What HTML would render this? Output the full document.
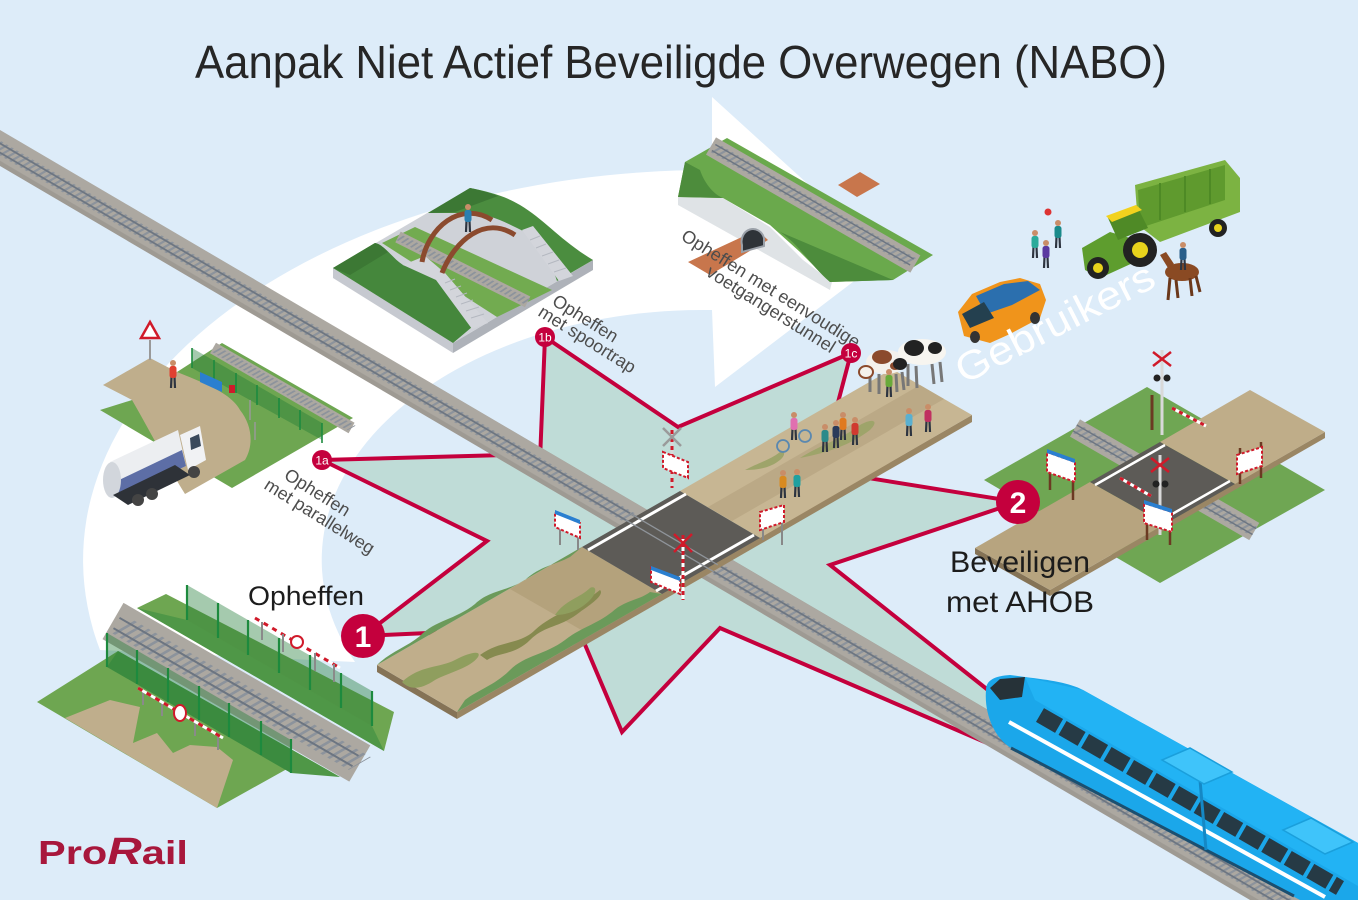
<!DOCTYPE html>
<html><head><meta charset="utf-8"><style>
html,body{margin:0;padding:0;background:#ddecf9;width:1358px;height:900px;overflow:hidden;}
svg{display:block;overflow:hidden}
text{font-family:"Liberation Sans",sans-serif}
</style></head><body>
<svg width="1358" height="900" viewBox="0 0 1358 900" xmlns="http://www.w3.org/2000/svg">
<defs>
<clipPath id="frame"><rect width="1358" height="900"/></clipPath>
<pattern id="trk" patternUnits="userSpaceOnUse" x="0" y="-15.5" width="6" height="31" patternTransform="translate(0,148) rotate(30.42) skewX(-30)">
 <rect width="6" height="31" fill="#aca8a1"/>
 <rect y="26.5" width="6" height="4.5" fill="#9e9a93"/>
 <rect x="0" y="9" width="2.5" height="13" fill="#8c939c"/>
 <rect y="10.6" width="6" height="1.8" fill="#6c7581"/>
 <rect y="18.6" width="6" height="1.8" fill="#6c7581"/>
</pattern>
<g id="pp"><path d="M-2,0 L-1.5,-11 M2,0 L1.5,-11" stroke="#2d3440" stroke-width="2.2"/><rect x="-3.5" y="-22" width="7" height="12" rx="2.5" fill="currentColor"/><circle cx="0" cy="-25" r="3" fill="#c98d68"/></g>
</defs>
<g clip-path="url(#frame)">
<rect width="1358" height="900" fill="#ddecf9"/>

<!-- white arrow -->
<path d="M712,170 A627,390 0 0 0 100,650 L355,662 A382,250 0 0 1 712,310 L715,387 L887,256 L712,97 Z" fill="#ffffff"/>

<!-- star -->
<polygon points="545,337 678,427 851,353 836,410 868,478 1018,502 830,565 988,690 1008,752 720,628 622,732 583,640 510,655 450,632 363,636 487,541 322,460 505,455 540,460" fill="#bfdcd7" stroke="#c4003d" stroke-width="4" stroke-linejoin="miter"/>

<!-- main track -->
<polygon points="0,130 1312,900 1250,900 0,166" fill="url(#trk)"/>

<!-- main road -->
<polygon points="377,665 457,712 457,719 377,672" fill="#857356"/>
<polygon points="457,712 972,415 972,422 457,719" fill="#9a8664"/>
<polygon points="377,665 582,547 662,594 457,712" fill="#c0ae8b"/>
<polygon points="510,589 582,547 662,594 590,635" fill="#b4a27c"/>
<path d="M377,665 L582,547 L570,557 C555,565 540,566 525,580 C505,592 490,590 475,604 C455,620 435,620 420,636 C405,648 390,652 377,665 Z" fill="#6b9a5a"/>
<path d="M457,712 L662,594 L650,592 C640,600 625,600 612,612 C595,625 580,628 565,640 C545,655 525,655 510,670 C495,685 478,690 465,700 Z" fill="#6b9a5a"/>
<path d="M480,655 C500,640 520,645 535,630 C555,612 575,610 600,590 C605,595 590,605 580,612 C560,628 545,625 530,640 C515,655 500,652 487,660 Z" fill="#868a4f"/>
<path d="M402,682 C420,665 440,668 455,660 C470,652 482,650 478,657 C470,668 450,672 435,680 C420,690 410,690 402,682 Z" fill="#8f9e5e"/>
<path d="M555,615 C565,600 580,598 590,588 C596,585 598,592 590,600 C580,610 568,615 555,615 Z" fill="#8f9e5e"/>
<polygon points="680,491 892,369 972,415 760,538" fill="#c7b693"/>
<polygon points="708,507 920,385 944,399 732,521" fill="#bba986"/>
<path d="M800,458 C820,445 840,440 860,425 C872,418 880,420 870,430 C850,445 830,452 800,458 Z" fill="#9ea46a"/>
<path d="M745,470 C760,462 770,460 780,452 C785,450 786,455 780,460 C770,468 758,470 745,470 Z" fill="#9ea46a"/>
<polygon points="582,547 680,491 760,538 662,594" fill="#5d5b57"/>
<line x1="588" y1="550" x2="686" y2="494" stroke="#fff" stroke-width="3"/>
<line x1="656" y1="591" x2="754" y2="535" stroke="#fff" stroke-width="3"/>
<g transform="translate(0,148) rotate(30.42)">
 <line x1="728" y1="-4" x2="830" y2="-4" stroke="#8f949a" stroke-width="1.3"/>
 <line x1="728" y1="4" x2="830" y2="4" stroke="#8f949a" stroke-width="1.3"/>
</g>
<!-- crossing furniture -->
<line x1="672" y1="430" x2="672" y2="488" stroke="#d8d8d8" stroke-width="3"/>
<line x1="672" y1="430" x2="672" y2="488" stroke="#d01a2a" stroke-width="3" stroke-dasharray="4 4"/>
<path d="M663,428 L681,446 M681,428 L663,446" stroke="#9a9a9a" stroke-width="2.5"/>
<polygon points="663,452 688,462 688,478 663,468" fill="#fff" stroke="#d01a2a" stroke-width="2" stroke-dasharray="3 2"/>
<line x1="683" y1="535" x2="683" y2="600" stroke="#fff" stroke-width="3"/>
<line x1="683" y1="535" x2="683" y2="600" stroke="#d01a2a" stroke-width="3" stroke-dasharray="4 4"/>
<path d="M674,534 L692,552 M692,534 L674,552" stroke="#d01a2a" stroke-width="2.5"/>
<polygon points="651,568 680,580 680,594 651,582" fill="#fff" stroke="#d01a2a" stroke-width="2" stroke-dasharray="3 2"/>
<polygon points="651,566 680,577 680,581 651,570" fill="#2a7fd0"/>
<line x1="560" y1="525" x2="560" y2="545" stroke="#888" stroke-width="2"/>
<line x1="578" y1="532" x2="578" y2="550" stroke="#888" stroke-width="2"/>
<polygon points="555,512 580,523 580,538 555,527" fill="#fff" stroke="#d01a2a" stroke-width="2" stroke-dasharray="3 2"/>
<polygon points="555,510 580,520 580,524 555,514" fill="#2a7fd0"/>
<line x1="763" y1="515" x2="763" y2="540" stroke="#888" stroke-width="2"/>
<line x1="782" y1="508" x2="782" y2="545" stroke="#888" stroke-width="2"/>
<polygon points="760,512 784,505 784,522 760,530" fill="#fff" stroke="#d01a2a" stroke-width="2" stroke-dasharray="3 2"/>

<!-- ===== lower-left tile ===== -->
<polygon points="137,608 166,594 394,712 384,751" fill="#6ea651"/>
<polygon points="187,620 372,726 384,751 137,608" fill="#4f9747"/>
<polygon points="187,585 372,691 372,726 187,620" fill="#1f7a35" fill-opacity="0.4"/>
<g stroke="#1d8a3e" stroke-width="2.2">
<line x1="187" y1="585" x2="187" y2="620"/><line x1="218" y1="603" x2="218" y2="638"/><line x1="248" y1="620" x2="248" y2="655"/><line x1="279" y1="638" x2="279" y2="673"/><line x1="310" y1="655" x2="310" y2="690"/><line x1="341" y1="673" x2="341" y2="708"/><line x1="372" y1="691" x2="372" y2="726"/>
</g>
<line x1="255" y1="618" x2="340" y2="668" stroke="#fff" stroke-width="3"/>
<line x1="255" y1="618" x2="340" y2="668" stroke="#d01a2a" stroke-width="3" stroke-dasharray="5 5"/>
<circle cx="297" cy="642" r="6" fill="#fff" stroke="#d01a2a" stroke-width="2"/>
<g stroke="#8a8a8a" stroke-width="2"><line x1="262" y1="622" x2="262" y2="640"/><line x1="283" y1="634" x2="283" y2="652"/><line x1="315" y1="653" x2="315" y2="671"/><line x1="334" y1="664" x2="334" y2="682"/></g>
<g transform="translate(113,621) rotate(30)">
 <rect x="0" y="-21" width="285" height="42" fill="#aca8a1"/>
 <g transform="skewX(-30)"><line x1="12" y1="0" x2="285" y2="0" stroke="#8c939c" stroke-width="22" stroke-dasharray="3 5"/></g>
 <line x1="4" y1="-6" x2="280" y2="-6" stroke="#6c7581" stroke-width="2"/>
 <line x1="4" y1="6" x2="280" y2="6" stroke="#6c7581" stroke-width="2"/>
</g>
<polygon points="37,702 118,651 340,777 303,760 217,808" fill="#6ea651"/>
<polygon points="118,651 340,777 291,773 107,667" fill="#4f9747"/>
<polygon points="65,718 110,700 140,707 133,743 157,733 173,753 190,745 217,747 233,760 217,808" fill="#bfae8c"/>
<polygon points="107,633 291,740 291,773 107,667" fill="#1f7a35" fill-opacity="0.4"/>
<g stroke="#1d8a3e" stroke-width="2.2">
<line x1="107" y1="633" x2="107" y2="667"/><line x1="137" y1="650" x2="137" y2="684"/><line x1="168" y1="668" x2="168" y2="702"/><line x1="199" y1="686" x2="199" y2="720"/><line x1="229" y1="703" x2="229" y2="737"/><line x1="261" y1="721" x2="261" y2="755"/><line x1="291" y1="739" x2="291" y2="773"/>
</g>
<g stroke="#8a8a8a" stroke-width="2"><line x1="143" y1="690" x2="143" y2="705"/><line x1="162" y1="701" x2="162" y2="716"/><line x1="195" y1="721" x2="195" y2="736"/><line x1="218" y1="735" x2="218" y2="750"/></g>
<line x1="138" y1="688" x2="223" y2="738" stroke="#fff" stroke-width="3"/>
<line x1="138" y1="688" x2="223" y2="738" stroke="#d01a2a" stroke-width="3" stroke-dasharray="5 5"/>
<ellipse cx="180" cy="713" rx="6" ry="8" fill="#fff" stroke="#d01a2a" stroke-width="2"/>

<!-- ===== 1a tile ===== -->
<polygon points="100,410 132,400 177,372 222,343 353,418 232,488" fill="#6ea651"/>
<path d="M103,385 L150,358 L177,372 C210,385 232,395 240,410 C252,425 254,445 245,460 L185,494 C170,470 155,440 132,400 Z" fill="#bfae8c"/>
<g transform="translate(213,348) rotate(30)">
 <rect x="0" y="-6" width="160" height="12" fill="#aca8a1"/>
 <g transform="skewX(-30)"><line x1="4" y1="0" x2="160" y2="0" stroke="#8c939c" stroke-width="8" stroke-dasharray="2 3"/></g>
</g>
<polygon points="192,348 322,423 322,440 192,368" fill="#1f7a35" fill-opacity="0.4"/>
<g stroke="#1d8a3e" stroke-width="1.6">
<line x1="192" y1="348" x2="192" y2="368"/><line x1="214" y1="360" x2="214" y2="380"/><line x1="236" y1="373" x2="236" y2="393"/><line x1="257" y1="385" x2="257" y2="405"/><line x1="279" y1="398" x2="279" y2="418"/><line x1="300" y1="410" x2="300" y2="430"/><line x1="322" y1="423" x2="322" y2="443"/>
</g>
<polygon points="200,372 222,382 222,392 200,382" fill="#2a7fd0"/>
<line x1="150" y1="340" x2="150" y2="360" stroke="#999" stroke-width="2"/>
<polygon points="150,322 159,338 141,338" fill="#fff" stroke="#d01a2a" stroke-width="2.5"/>
<rect x="229" y="385" width="6" height="8" fill="#d01a2a"/>
<line x1="250" y1="400" x2="250" y2="420" stroke="#999" stroke-width="1.5"/>
<line x1="255" y1="422" x2="255" y2="440" stroke="#999" stroke-width="1.5"/>
<use href="#pp" x="173" y="388" style="color:#e04030"/>
<!-- truck -->
<polygon points="110,462 178,430 186,466 120,497" fill="#eceef1"/>
<polygon points="115,482 182,450 186,466 120,497" fill="#5d6ea6"/>
<ellipse cx="112" cy="480" rx="9" ry="18" fill="#d2d6dc"/>
<polygon points="180,435 200,426 206,460 188,470" fill="#f1f2f4"/>
<polygon points="190,438 199,434 201,446 191,450" fill="#3b4a5c"/>
<polygon points="113,495 175,465 190,475 128,505" fill="#2e3238"/>
<circle cx="138" cy="500" r="6" fill="#444"/><circle cx="152" cy="494" r="6" fill="#444"/><circle cx="194" cy="472" r="6" fill="#444"/>

<!-- ===== 1b tile ===== -->
<polygon points="333,268 453,343 453,353 333,278" fill="#c6c9d0"/>
<polygon points="453,343 593,260 593,270 453,353" fill="#aeb2b9"/>
<polygon points="333,268 470,188 593,260 453,343" fill="#cfd2d8"/>
<polygon points="382,243 415,227 552,290 497,317" fill="#72ab50"/>
<g transform="translate(398,237) rotate(26.6)">
 <rect x="0" y="-6" width="145" height="12" fill="#aca8a1"/>
 <g transform="skewX(-30)"><line x1="2" y1="0" x2="145" y2="0" stroke="#8c939c" stroke-width="7" stroke-dasharray="2 3"/></g>
</g>
<path d="M333,268 L375,243 C385,245 392,258 403,265 L435,277 L472,327 L453,343 Z" fill="#45873c"/>
<path d="M333,268 L375,243 C380,244 384,248 388,252 L350,275 Z" fill="#3c7834"/>
<polygon points="403,265 425,256 445,273 488,323 472,329 436,280" fill="#d3d5db"/>
<g stroke="#b4b8c0" stroke-width="1"><line x1="445" y1="283" x2="455" y2="279"/><line x1="450" y1="290" x2="461" y2="286"/><line x1="456" y1="297" x2="467" y2="293"/><line x1="461" y1="304" x2="473" y2="300"/><line x1="466" y1="311" x2="479" y2="307"/><line x1="471" y1="318" x2="484" y2="314"/></g>
<path d="M428,213 L470,188 C490,192 505,196 520,205 C545,220 560,240 593,260 L557,281 C552,265 540,245 525,232 C505,222 490,214 470,213 Z" fill="#4b8d3f"/>
<path d="M428,213 L470,188 C480,190 490,193 498,196 L455,212 Z" fill="#3c7834"/>
<polygon points="522,230 533,226 573,276 559,281" fill="#d3d5db"/>
<g stroke="#b4b8c0" stroke-width="1"><line x1="530" y1="240" x2="540" y2="236"/><line x1="536" y1="248" x2="546" y2="244"/><line x1="542" y1="256" x2="553" y2="252"/><line x1="548" y1="264" x2="559" y2="260"/><line x1="554" y1="272" x2="566" y2="268"/></g>
<path d="M422,262 C428,228 460,200 492,220" fill="none" stroke="#8b4a2e" stroke-width="5"/>
<path d="M442,273 C455,240 485,215 515,235" fill="none" stroke="#8b4a2e" stroke-width="5"/>
<use href="#pp" x="468" y="232" style="color:#2a7fb0"/>

<!-- ===== 1c tile ===== -->
<polygon points="678,197 723,198 770,227 803,260 832,282 830,290 678,205" fill="#dfe3e6"/>
<polygon points="685,162 727,138 933,255 893,280 830,282 800,252 770,225 723,198 678,197" fill="#6aa94c"/>
<path d="M678,197 L685,162 L700,170 C705,185 715,195 723,198 Z" fill="#4d8c3c"/>
<path d="M830,282 C810,265 800,245 780,232 L893,280 Z" fill="#4d8c3c"/>
<g transform="translate(711,146) rotate(30)">
 <rect x="0" y="-10" width="236" height="20" fill="#aca8a1"/>
 <g transform="skewX(-30)"><line x1="6" y1="0" x2="232" y2="0" stroke="#8c939c" stroke-width="11" stroke-dasharray="2.5 3.5"/></g>
 <line x1="3" y1="-3.5" x2="232" y2="-3.5" stroke="#6c7581" stroke-width="1.4"/>
 <line x1="3" y1="3.5" x2="232" y2="3.5" stroke="#6c7581" stroke-width="1.4"/>
</g>
<polygon points="838,185 860,172 880,184 857,197" fill="#c8764c"/>
<polygon points="688,262 757,230 768,240 710,275" fill="#c8764c"/>
<path d="M742,245 A11,12 0 0 1 764,238 L764,246 L742,252 Z" fill="#2e3338" stroke="#9aa0a8" stroke-width="2"/>

<!-- ===== right tile (AHOB) ===== -->
<polygon points="984,480 1147,387 1325,490 1160,583" fill="#6fa653"/>
<g transform="translate(1075,428) rotate(30)">
 <rect x="0" y="-10" width="207" height="20" fill="#aca8a1"/>
 <g transform="skewX(-30)"><line x1="4" y1="0" x2="207" y2="0" stroke="#8c939c" stroke-width="11" stroke-dasharray="2.5 3.5"/></g>
 <line x1="0" y1="-3.5" x2="207" y2="-3.5" stroke="#6c7581" stroke-width="1.4"/>
 <line x1="0" y1="3.5" x2="207" y2="3.5" stroke="#6c7581" stroke-width="1.4"/>
</g>
<polygon points="975,548 1050,590 1050,596 975,554" fill="#857356"/>
<polygon points="1050,590 1325,432 1325,438 1050,596" fill="#9a8664"/>
<polygon points="975,548 1090,482 1165,524 1050,590" fill="#b7a47f"/>
<polygon points="1160,442 1250,390 1325,432 1235,484" fill="#bfad89"/>
<polygon points="1090,482 1160,442 1235,484 1165,524" fill="#5d5b57"/>
<line x1="1095" y1="485" x2="1165" y2="445" stroke="#fff" stroke-width="2.5"/>
<line x1="1160" y1="521" x2="1230" y2="481" stroke="#fff" stroke-width="2.5"/>
<line x1="1162" y1="350" x2="1162" y2="435" stroke="#d9d9d9" stroke-width="3"/>
<path d="M1153,352 L1171,366 M1171,352 L1153,366" stroke="#d01a2a" stroke-width="2.5"/>
<circle cx="1157" cy="378" r="3.5" fill="#222"/><circle cx="1167" cy="378" r="3.5" fill="#222"/>
<line x1="1152" y1="395" x2="1152" y2="430" stroke="#6b3a22" stroke-width="3"/>
<line x1="1172" y1="408" x2="1206" y2="426" stroke="#fff" stroke-width="3"/>
<line x1="1172" y1="408" x2="1206" y2="426" stroke="#d01a2a" stroke-width="3" stroke-dasharray="4 4"/>
<line x1="1160" y1="455" x2="1160" y2="535" stroke="#d9d9d9" stroke-width="3"/>
<path d="M1151,458 L1169,472 M1169,458 L1151,472" stroke="#d01a2a" stroke-width="2.5"/>
<circle cx="1156" cy="484" r="3.5" fill="#222"/><circle cx="1165" cy="484" r="3.5" fill="#222"/>
<line x1="1120" y1="478" x2="1151" y2="496" stroke="#fff" stroke-width="3"/>
<line x1="1120" y1="478" x2="1151" y2="496" stroke="#d01a2a" stroke-width="3" stroke-dasharray="4 4"/>
<line x1="1050" y1="455" x2="1050" y2="490" stroke="#6b3a22" stroke-width="2.5"/><line x1="1073" y1="465" x2="1073" y2="500" stroke="#6b3a22" stroke-width="2.5"/>
<polygon points="1047,452 1075,462 1075,482 1047,472" fill="#fff" stroke="#d01a2a" stroke-width="2" stroke-dasharray="3 2"/>
<polygon points="1047,449 1075,459 1075,463 1047,453" fill="#2a7fd0"/>
<line x1="1240" y1="448" x2="1240" y2="484" stroke="#6b3a22" stroke-width="2.5"/><line x1="1261" y1="442" x2="1261" y2="478" stroke="#6b3a22" stroke-width="2.5"/>
<polygon points="1237,455 1262,447 1262,466 1237,474" fill="#fff" stroke="#d01a2a" stroke-width="2" stroke-dasharray="3 2"/>
<line x1="1147" y1="505" x2="1147" y2="540" stroke="#6b3a22" stroke-width="2.5"/><line x1="1170" y1="512" x2="1170" y2="545" stroke="#6b3a22" stroke-width="2.5"/>
<polygon points="1144,503 1172,512 1172,532 1144,523" fill="#fff" stroke="#d01a2a" stroke-width="2" stroke-dasharray="3 2"/>
<polygon points="1144,500 1172,509 1172,513 1144,504" fill="#2a7fd0"/>

<!-- ===== train ===== -->
<path d="M986,690 C986,680 995,676 1010,675 L1025,677 C1050,680 1070,683 1083,690 L1358,843 L1358,900 L1300,900 L1011,748 C995,738 984,715 986,690 Z" fill="#1ba7ea"/>
<polygon points="1025,677 1083,690 1358,843 1358,886 1035,700" fill="#22b3f4"/>
<polygon points="990,688 1000,679 1025,677 1022,697 1000,700" fill="#263238"/>
<line x1="1040" y1="715" x2="1340" y2="888" stroke="#263a45" stroke-width="16" stroke-dasharray="22 4"/>
<line x1="1009" y1="722" x2="1325" y2="897" stroke="#fff" stroke-width="4"/>
<line x1="1011" y1="748" x2="1294" y2="896" stroke="#1b4f70" stroke-width="3"/>
<line x1="1200" y1="780" x2="1206" y2="850" stroke="#1588c5" stroke-width="3"/>
<polygon points="1162,760 1190,748 1232,772 1204,784" fill="#3fc4fa" stroke="#1a9fdc" stroke-width="1.5"/>
<polygon points="1283,830 1311,818 1353,842 1325,854" fill="#3fc4fa" stroke="#1a9fdc" stroke-width="1.5"/>

<!-- ===== users ===== -->
<path d="M958,312 L972,294 L1000,282 L1020,278 L1040,284 L1046,300 L1040,318 L1010,334 L990,343 L964,336 Z" fill="#f0941b"/>
<polygon points="976,296 1004,284 1028,281 1040,290 1012,305 986,314" fill="#2b6fae"/>
<polygon points="962,314 984,302 994,318 970,328" fill="#24404f"/>
<ellipse cx="975" cy="337" rx="5" ry="6" fill="#333"/><ellipse cx="1035" cy="318" rx="5" ry="6" fill="#333"/>
<polygon points="1135,185 1225,160 1240,178 1240,212 1160,242 1138,225" fill="#7cb342"/>
<polygon points="1138,190 1225,165 1225,200 1140,228" fill="#5f9a2e"/>
<g stroke="#4e8a25" stroke-width="2"><line x1="1160" y1="183" x2="1160" y2="220"/><line x1="1185" y1="176" x2="1185" y2="212"/><line x1="1210" y1="169" x2="1210" y2="204"/></g>
<polygon points="1082,248 1110,232 1130,238 1135,262 1100,278 1085,270" fill="#5e9d2e"/>
<polygon points="1108,218 1138,208 1148,228 1118,240" fill="#4f8a26"/>
<polygon points="1106,216 1136,205 1142,210 1112,222" fill="#f2d21e"/>
<circle cx="1140" cy="250" r="17" fill="#222"/><circle cx="1140" cy="250" r="8" fill="#e8d21c"/>
<circle cx="1098" cy="268" r="11" fill="#222"/><circle cx="1098" cy="268" r="5" fill="#e8d21c"/>
<circle cx="1218" cy="228" r="9" fill="#222"/><circle cx="1218" cy="228" r="4" fill="#e8d21c"/>
<ellipse cx="1182" cy="272" rx="17" ry="9" fill="#8a4a23"/>
<path d="M1168,268 L1160,255 L1166,252 L1174,264 Z" fill="#8a4a23"/>
<path d="M1170,278 L1168,300 M1176,280 L1178,298 M1190,278 L1192,296 M1196,276 L1200,292" stroke="#6b381b" stroke-width="3"/>
<use href="#pp" x="1183" y="270" style="color:#2a5f8a"/>
<use href="#pp" x="1035" y="258" style="color:#2aaa9a"/>
<use href="#pp" x="1046" y="268" style="color:#5a3aa0"/>
<use href="#pp" x="1058" y="248" style="color:#1a8a8a"/>
<circle cx="1048" cy="212" r="3.5" fill="#d33"/>
<g>
<path d="M870,372 L870,392 M879,374 L879,394 M896,374 L897,392 M902,372 L904,390" stroke="#777" stroke-width="3"/>
<ellipse cx="886" cy="362" rx="20" ry="12" fill="#f4f1ec"/>
<ellipse cx="882" cy="357" rx="10" ry="7" fill="#8b4a2c"/>
<ellipse cx="895" cy="366" rx="5" ry="4" fill="#8b4a2c"/>
<ellipse cx="866" cy="372" rx="7" ry="6" fill="#f4f1ec" stroke="#8b4a2c" stroke-width="2"/>
<path d="M908,364 L908,386 M916,366 L917,388 M932,364 L934,384 M940,362 L942,382" stroke="#777" stroke-width="3"/>
<ellipse cx="922" cy="352" rx="24" ry="13" fill="#f7f5f0"/>
<ellipse cx="914" cy="348" rx="10" ry="8" fill="#222"/>
<ellipse cx="935" cy="348" rx="7" ry="6" fill="#222"/>
<ellipse cx="900" cy="364" rx="7" ry="6" fill="#222"/>
</g>
<use href="#pp" x="889" y="397" style="color:#6aaa3a"/>
<circle cx="783" cy="446" r="6" fill="none" stroke="#5a88b0" stroke-width="1.8"/>
<circle cx="805" cy="436" r="6" fill="none" stroke="#5a88b0" stroke-width="1.8"/>
<use href="#pp" x="794" y="440" style="color:#e070b0"/>
<use href="#pp" x="825" y="452" style="color:#2a8a8a"/>
<use href="#pp" x="836" y="448" style="color:#2a3a5a"/>
<use href="#pp" x="843" y="440" style="color:#e07a20"/>
<use href="#pp" x="855" y="445" style="color:#d03a30"/>
<use href="#pp" x="909" y="436" style="color:#5ab0d0"/>
<use href="#pp" x="928" y="432" style="color:#c03060"/>
<use href="#pp" x="783" y="498" style="color:#d88a20"/>
<use href="#pp" x="797" y="497" style="color:#20a0a0"/>

<!-- ===== labels ===== -->
<text x="195" y="78" font-size="46" textLength="972" lengthAdjust="spacingAndGlyphs" fill="#262626">Aanpak Niet Actief Beveiligde Overwegen (NABO)</text>
<text x="248" y="605" font-size="27" textLength="116" lengthAdjust="spacingAndGlyphs" fill="#1c1c1c">Opheffen</text>
<text x="950" y="572" font-size="30" textLength="140" lengthAdjust="spacingAndGlyphs" fill="#1c1c1c">Beveiligen</text>
<text x="946" y="612" font-size="30" textLength="148" lengthAdjust="spacingAndGlyphs" fill="#1c1c1c">met AHOB</text>

<g font-size="18" fill="#4d4d4d">
<text transform="translate(283,478) rotate(32)">Opheffen</text>
<text transform="translate(263,488) rotate(32)">met parallelweg</text>
<text transform="translate(551,304) rotate(32)">Opheffen</text>
<text transform="translate(537,315) rotate(32)">met spoortrap</text>
<text transform="translate(680,239) rotate(32)">Opheffen met eenvoudige</text>
<text transform="translate(705,275) rotate(32)">voetgangerstunnel</text>
</g>
<text x="1061" y="335" text-anchor="middle" transform="rotate(-27 1061 335)" font-size="40" fill="#ffffff" textLength="218" lengthAdjust="spacingAndGlyphs">Gebruikers</text>

<circle cx="322" cy="460" r="10" fill="#c4003d"/>
<text x="322" y="464.5" font-size="12" fill="#fff" text-anchor="middle">1a</text>
<circle cx="545" cy="337" r="10" fill="#c4003d"/>
<text x="545" y="341.5" font-size="12" fill="#fff" text-anchor="middle">1b</text>
<circle cx="851" cy="353" r="10" fill="#c4003d"/>
<text x="851" y="357.5" font-size="12" fill="#fff" text-anchor="middle">1c</text>
<circle cx="363" cy="636" r="22" fill="#c4003d"/>
<text x="363" y="647" font-size="30" font-weight="bold" fill="#fff" text-anchor="middle">1</text>
<circle cx="1018" cy="502" r="22" fill="#c4003d"/>
<text x="1018" y="513" font-size="30" font-weight="bold" fill="#fff" text-anchor="middle">2</text>

<text x="38" y="864" font-family="Liberation Serif" font-weight="bold" font-size="33" fill="#a8173c" textLength="150" lengthAdjust="spacingAndGlyphs">Pro<tspan font-style="italic" font-size="38">R</tspan>ail</text>
</g>
</svg>
</body></html>
